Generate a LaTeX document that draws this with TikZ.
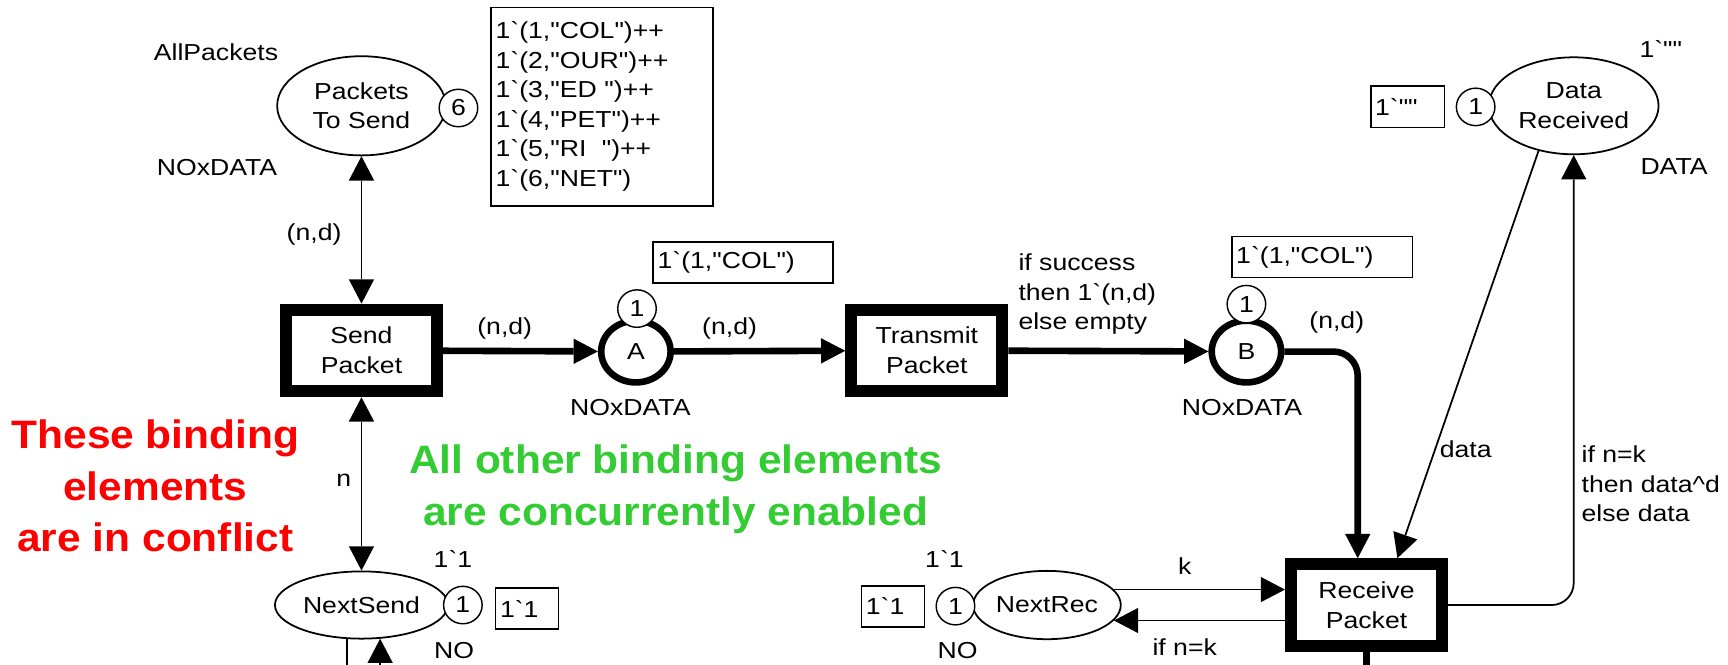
\documentclass[tikz,border=0pt]{standalone}
\usepackage{fontspec}
\setmainfont{Liberation Sans}[FakeStretch=1.15, Ligatures=TeXOff]
\newfontfamily\notefont{Liberation Sans}[FakeStretch=1.07, Ligatures=TeXOff]
\usetikzlibrary{arrows.meta, shapes.geometric}
\definecolor{conflictred}{RGB}{255,0,0}
\definecolor{enabledgreen}{RGB}{51,204,51}

\begin{document}
\begin{tikzpicture}[x=1pt, y=-1pt,
  font=\fontsize{21}{27}\selectfont,
  >={Triangle[length=22pt,width=23pt,line width=0pt]},
  place/.style={ellipse, draw, line width=1.6pt, inner sep=0pt, fill=white, align=center},
  bigplace/.style={ellipse, draw, line width=6pt, inner sep=0pt, fill=white,
                   minimum width=63pt, minimum height=56pt},
  token/.style={ellipse, draw, line width=1.3pt, fill=white, inner sep=0pt,
                minimum width=35pt, minimum height=34pt},
  trans/.style={rectangle, draw, line width=11pt, fill=white, minimum width=137pt,
                minimum height=74pt, align=center, inner sep=0pt},
  mbox/.style={rectangle, draw, line width=1.5pt, inner xsep=4pt, inner ysep=0pt,
               align=left, anchor=north west},
  lbl/.style={inner sep=0pt, align=left},
  arc/.style={line width=1.6pt},
  flow/.style={line width=6pt},
  note/.style={inner sep=0pt, align=center,
               font=\notefont\bfseries\fontsize{36}{46.5}\selectfont}]

\clip (0,0) rectangle (1568,603);
\coordinate (bottom) at (0,607);

% ---- places ----
\node[place, minimum width=153pt, minimum height=90pt] (PTS) at (328,96)
  {\fontsize{21}{27}\selectfont Packets\\To Send};
\node[place, minimum width=154pt, minimum height=88pt] (DR) at (1428,96)
  {\fontsize{21}{27}\selectfont Data\\Received};
\node[place, minimum width=157pt, minimum height=61pt] (NS) at (328,549) {NextSend};
\node[place, minimum width=134pt, minimum height=62pt] (NR) at (950,549) {NextRec};
\node[bigplace] (A) at (577,319) {A};
\node[bigplace] (B) at (1131,319) {B};

% ---- transitions ----
\node[trans] (SP) at (328,318) {Send\\Packet};
\node[trans] (TP) at (841,318) {Transmit\\Packet};
\node[trans] (R)  at (1240,549) {Receive\\Packet};

% ---- arcs ----
\draw[arc, <->] (PTS.south) -- (SP.north);
\draw[arc, <->] (SP.south) -- (NS.north);
\draw[flow, ->] (SP) -- (A);
\draw[flow, ->] (A) -- (TP);
\draw[flow, ->] (TP) -- (B);
\draw[flow, ->, rounded corners=22pt] (B.east) -| ([xshift=-8pt]R.north);
\draw[arc, ->] (DR.232) -- ([xshift=28pt]R.north);
\draw[arc, ->, rounded corners=20pt] (R.east) -| (DR.south);
\draw[arc, ->] (NR.13) -- (NR.13 -| R.west);
\draw[arc, ->] (NR.-13 -| R.west) -- (NR.-13);
\draw[arc] (NS.247) -- (NS.247 |- bottom);
\draw[arc, ->] (NS.299 |- bottom) -- (NS.299);
\draw[flow] (R.south) -- (R.south |- bottom);

% ---- tokens ----
\node[token] (t6) at (416,98) {6};
\node[token] (tA) at (578,280) {1};
\node[token] (tB) at (1131,276) {1};
\node[token] (tDR) at (1339,97) {1};
\node[token] (tNR) at (867,550) {1};
\node[token] (tNS) at (420,549) {1};

% ---- markings ----
\node[mbox, text width=193pt, minimum height=180pt] (mPTS) at (445,6)
  {\fontsize{21}{26.8}\selectfont
   1`(1,"COL")++\\1`(2,"OUR")++\\1`(3,"ED ")++\\1`(4,"PET")++\\1`(5,"RI~~")++\\1`(6,"NET")};
\node[mbox, text width=155pt, minimum height=37pt] (mA) at (592,219) {1`(1,"COL")};
\node[mbox, text width=156pt, minimum height=37pt] (mB) at (1117,214) {1`(1,"COL")};
\node[mbox, text width=59pt, minimum height=38pt] (mDR) at (1243,77) {1`""};
\node[mbox, text width=49pt, minimum height=37pt] (mNR) at (781,531) {1`1};
\node[mbox, text width=49pt, minimum height=37pt] (mNS) at (449,533) {1`1};

% ---- inscriptions ----
\node[lbl] (lAll) at (196,47) {AllPackets};
\node[lbl] (lPTS) at (197,152) {NOxDATA};
\node[lbl] (lA) at (572,370) {NOxDATA};
\node[lbl] (lB) at (1127,370) {NOxDATA};
\node[lbl] (lDRi) at (1507,44) {1`""};
\node[lbl] (lDR) at (1519,151) {DATA};
\node[lbl] (lNSi) at (411,507) {1`1};
\node[lbl] (lNS) at (412,590) {NO};
\node[lbl] (lNRi) at (857,507) {1`1};
\node[lbl] (lNR) at (869,590) {NO};
\node[lbl] (e1) at (285,213) {(n,d)};
\node[lbl] (e2) at (458,298) {(n,d)};
\node[lbl] (e3) at (662,298) {(n,d)};
\node[lbl, anchor=west] (e4) at (924,267)
  {\fontsize{21}{30}\selectfont if success\\then 1`(n,d)\\else empty};
\node[lbl] (e5) at (1213,293) {(n,d)};
\node[lbl] (e6) at (1330,408) {data};
\node[lbl, anchor=west] (e7) at (1435,439)
  {\fontsize{21}{28}\selectfont if n=k\\then data\textasciicircum d\\else data};
\node[lbl] (e8) at (312,436) {n};
\node[lbl] (e9) at (1075,514) {k};
\node[lbl] (e10) at (1075,587) {if n=k};

% ---- annotations ----
\node[note, text=conflictred] (conflict) at (141,441)
  {These binding\\elements\\are in conflict};
\node[note, text=enabledgreen] (concurrent) at (613,444)
  {All other binding elements\\are concurrently enabled};
\end{tikzpicture}
\end{document}
